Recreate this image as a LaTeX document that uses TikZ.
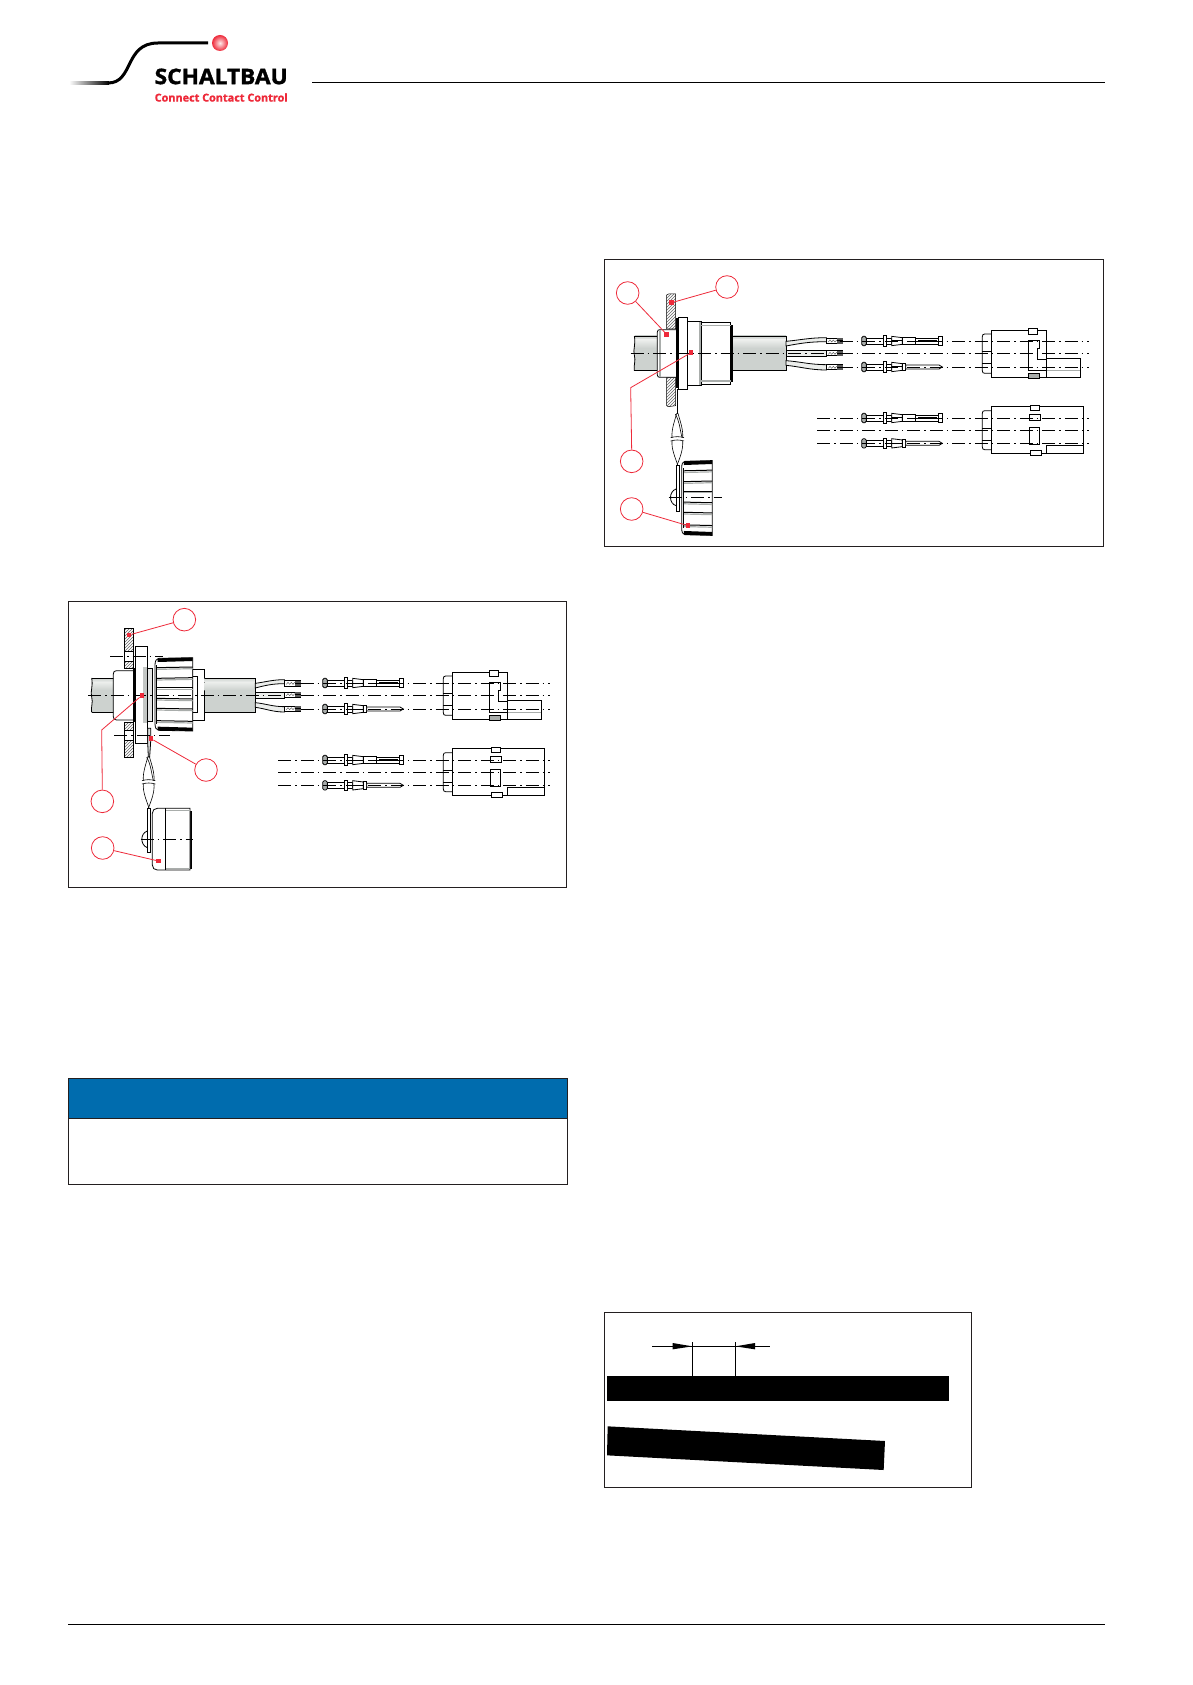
\documentclass[tikz,border=0pt]{standalone}
\usepackage{fontspec}
\setmainfont{Open Sans}
\usetikzlibrary{patterns}
\definecolor{bx}{HTML}{231F20}
\definecolor{rd}{HTML}{EE2A3A}
\definecolor{blu}{HTML}{006CAE}
\definecolor{cab}{HTML}{CDD2CF}
\definecolor{cabl}{HTML}{ECEEEC}
\definecolor{stl}{HTML}{A9ADAB}
\tikzset{
  frame/.style={draw=bx,line width=1pt,fill=white},
  ln/.style={draw=black,line width=.8pt},
  axis/.style={draw=black,line width=.7pt,dash pattern=on 13pt off 4pt on 1.5pt off 4pt},
  hat/.style={draw=black,line width=.5pt,pattern=north east lines,pattern color=black!60},
  callout/.style={circle,draw=rd,line width=.8pt,fill=white,minimum size=22.6pt,inner sep=0pt},
  rdot/.style={rectangle,fill=rd,minimum size=4.4pt,inner sep=0pt},
  leader/.style={draw=rd,line width=.8pt}
}
\newcommand{\cablebar}[4]{%
  \fill[cab] (#1,#2) rectangle (#3,#4);
  \shade[top color=cab,bottom color=cabl] (#1,#2) rectangle (#3,#2+12);
  \shade[top color=cabl,bottom color=cab] (#1,#2+12) rectangle (#3,#2+36);
}
\newcommand{\wirepin}[2]{%
  \begin{scope}[shift={(#1,#2)}]
    \draw[ln,line width=1pt,fill=white] (0,-8) rectangle (48,8);
    \fill[black!65] (32,-8) rectangle (48,8);
    \draw[black!70,line width=.4pt] (5,3) -- (10,-3) -- (15,3) -- (20,-3) -- (25,3) -- (30,-3);
    \draw[black,line width=1pt] (32,0) -- (48,0);
  \end{scope}}
\newcommand{\wires}[4]{% x0,y0,length,pinlen
  \begin{scope}[shift={(#1,#2)},xscale=#3]
    \draw[ln,fill=cabl] (0,-36) .. controls (30,-40) and (50,-47) .. (85,-47) -- (85,-35) .. controls (50,-35) and (30,-30) .. (0,-22) -- cycle;
    \draw[ln,fill=cabl] (0,-8) -- (85,-8) -- (85,8) -- (0,8) -- cycle;
    \draw[ln,fill=cabl] (0,22) .. controls (30,25) and (50,34) .. (85,34) -- (85,50) .. controls (50,50) and (30,40) .. (0,36) -- cycle;
  \end{scope}}
\newcommand{\socketpin}[2]{%
  \begin{scope}[shift={(#1,#2)}]
    \draw[ln,fill=stl,rounded corners=1.5pt] (0,-14) rectangle (14,14);
    \draw[ln,fill=white] (14,-9) rectangle (64,9);
    \draw[ln,fill=white] (64,-16) rectangle (74,16);
    \draw[ln,fill=white] (74,-9) rectangle (90,9);
    \draw[ln,fill=white] (90,-14) -- (122,-10) -- (122,10) -- (90,14) -- cycle;
    \draw[line width=1pt] (92,0) -- (120,0);
    \draw[ln,fill=white] (122,-11) rectangle (162,11);
    \draw[ln,fill=white] (162,-9) rectangle (230,9);
    \draw[line width=1.2pt] (170,0) -- (226,0);
    \draw[ln,fill=white] (230,-13) rectangle (242,13);
  \end{scope}}
\newcommand{\malepin}[2]{%
  \begin{scope}[shift={(#1,#2)}]
    \draw[ln,fill=stl,rounded corners=1.5pt] (0,-14) rectangle (14,14);
    \draw[ln,fill=white] (14,-9) rectangle (64,9);
    \draw[ln,fill=white] (64,-16) rectangle (74,16);
    \draw[ln,fill=white] (74,-9) rectangle (90,9);
    \draw[ln,fill=white] (90,-14) -- (122,-10) -- (122,10) -- (90,14) -- cycle;
    \draw[line width=1pt] (92,0) -- (120,0);
    \draw[ln,fill=white] (122,-11) rectangle (132,11);
    \draw[ln,fill=white] (132,-6) -- (232,-6) -- (242,0) -- (232,6) -- (132,6) -- cycle;
  \end{scope}}
\newcommand{\contacts}{%
  \socketpin{158}{99}\malepin{158}{177}\socketpin{158}{330}\malepin{158}{406}
  % housing A
  \draw[ln,fill=white] (712,152) -- (814,152) -- (814,208) -- (712,208) -- cycle;
  \draw[stl,line width=.7pt] (712,186) -- (814,186);
  \draw[ln,fill=white] (547,78) -- (527,78) .. controls (522,78) and (520,81) .. (520,86) -- (520,188) .. controls (520,193) and (522,196) .. (527,196) -- (547,196);
  \draw[ln,fill=white] (547,66) rectangle (712,208);
  \draw[ln] (520,130) -- (547,130) (520,166) -- (547,166);
  \draw[ln,fill=white] (658,62) rectangle (686,78);
  \draw[ln,fill=stl] (658,196) rectangle (692,212);
  \draw[ln,fill=white] (658,97) -- (692,97) -- (692,122) -- (685,122) -- (685,155) -- (712,155) -- (712,186) -- (658,186) -- cycle;
  % housing B
  \draw[ln,fill=white] (547,308) -- (527,308) .. controls (522,308) and (520,311) .. (520,316) -- (520,417) .. controls (520,422) and (522,425) .. (527,425) -- (547,425);
  \draw[ln,fill=white] (547,295) rectangle (823,437);
  \draw[ln] (520,360) -- (547,360) (520,396) -- (547,396);
  \draw[ln,fill=white] (713,412) rectangle (823,437);
  \draw[ln,fill=white] (664,291) rectangle (690,307);
  \draw[ln,fill=white] (662,320) rectangle (695,338);
  \draw[ln,fill=white] (662,357) rectangle (690,408);
  \draw[ln,fill=white] (664,426) rectangle (696,442);
  % axes
  \draw[axis] (92,99) -- (840,99);
  \draw[axis] (92,135) -- (840,135);
  \draw[axis] (92,177) -- (840,177);
  \draw[axis] (25,330) -- (840,330);
  \draw[axis] (25,367) -- (840,367);
  \draw[axis] (25,406) -- (840,406);
}
\newcommand{\lanyard}[2]{%
  \begin{scope}[shift={(#1,#2)}]
    \draw[line width=.6pt] (-2,-78) .. controls (-8,-55) and (-18,-30) .. (-16,-5);
    \draw[line width=.6pt] (2,-78) .. controls (8,-55) and (18,-30) .. (16,-5);
    \draw[line width=.6pt] (-6,-75) .. controls (6,-55) and (6,-40) .. (14,-5);
    \draw[line width=.6pt] (-16,5) .. controls (-18,30) and (-6,55) .. (2,80);
    \draw[line width=.6pt] (16,5) .. controls (18,30) and (8,55) .. (-2,80);
    \draw[line width=.6pt] (-20,-5) .. controls (-7,-9) and (7,-9) .. (20,-5);
    \draw[line width=.6pt] (-20,5) .. controls (-7,1) and (7,1) .. (20,5);
  \end{scope}}
\newcommand{\knurl}[5]{% x, yc, xscale, yscale
  \begin{scope}[shift={(#1,#2)},xscale=#3,yscale=#4]
    \draw[ln,fill=white] (0,-88) .. controls (0,-100) and (4,-108) .. (12,-108) -- (113,-110) -- (113,110) -- (12,108) .. controls (4,108) and (0,100) .. (0,88) -- cycle;
    \fill[black] (8,-108) -- (113,-110) -- (113,-100) -- (8,-97) -- cycle;
    \fill[black] (8,108) -- (113,110) -- (113,100) -- (8,97) -- cycle;
    \foreach \ya/\yb in {-80/-82,-48/-50,-20/-20,12/14,42/44,79/81} {
      \draw[line width=1pt] (5,\ya) -- (113,\yb);
      \draw[stl,line width=1.2pt] (5,\ya+5) -- (113,\yb+5);
    }
    \draw[ln] (5,-88) -- (5,88);
    #5
  \end{scope}}
\begin{document}
\begin{tikzpicture}[x=1pt,y=-1pt]
\useasboundingbox (0,0) rectangle (1192,1685);
\fill[white] (0,0) rectangle (1192,1685);
% ---- header
\shade[left color=white,right color=black] (69,81.5) rectangle (109,84.5);
\draw[line width=3pt,line cap=butt] (108,83) .. controls (134,83) and (124,43) .. (158,43) -- (208,43);
\shade[inner color=red!8!white,outer color=rd] (220,43) circle (8);
\node[anchor=west,inner sep=0pt,text=black] (brand) at (154.5,76.5) {\resizebox{133pt}{15.5pt}{\bfseries\addfontfeature{FakeBold=1.6}SCHALTBAU}};
\node[anchor=west,inner sep=0pt,text=rd] (slogan) at (154.5,97.5) {\resizebox{133pt}{!}{\bfseries\addfontfeature{FakeBold=1.2}Connect Contact Control}};
\draw[line width=.7pt,black] (312,82) -- (1105,82);
\draw[line width=.7pt,black] (68,1624.5) -- (1105,1624.5);
% ---- frames
\draw[frame] (68,601) rectangle (566,887);
\draw[frame] (604.5,259.5) rectangle (1103,546.5);
\draw[frame] (604,1312) rectangle (971.5,1487.5);
\fill[blu] (68,1078) rectangle (567,1118.5);
\draw[bx,line width=1pt] (68,1078) rectangle (567,1184);
\draw[bx,line width=1pt] (68,1118.5) -- (567,1118.5);
% ---- figure 1 assembly
\begin{scope}[shift={(60,595)},scale=1/3]
  \fill[cab] (95,249) .. controls (100,275) and (90,290) .. (95,305) .. controls (100,325) and (92,335) .. (95,352) -- (165,352) -- (165,249) -- cycle;
  \shade[top color=cab,bottom color=cabl] (97,249) rectangle (165,261);
  \shade[top color=cabl,bottom color=cab] (97,261) rectangle (165,285);
  \draw[ln] (95,249) -- (165,249) (95,352) -- (165,352);
  \draw[ln] (95,249) .. controls (100,275) and (90,290) .. (95,305) .. controls (100,325) and (92,335) .. (95,352);
  \draw[ln,fill=white] (220,227) -- (170,227) .. controls (163,227) and (160,230) .. (160,237) -- (160,365) .. controls (160,372) and (163,375) .. (170,375) -- (220,375);
  % panel
  \draw[hat] (194,99) rectangle (220,168);
  \draw[ln,fill=white] (194,168) rectangle (220,200);
  \draw[hat] (194,200) rectangle (220,220);
  \draw[hat] (194,382) rectangle (220,405);
  \draw[ln,fill=white] (194,405) rectangle (220,435);
  \draw[hat] (194,435) rectangle (220,488);
  \fill[black] (219,220) rectangle (226,382);
  \draw[ln,fill=white] (226,154) rectangle (262,446);
  \fill[stl!70] (250,215) rectangle (261.5,385);
  \draw[ln,fill=stl!30] (262,220) rectangle (277,380);
  % cap behind nut
  \draw[ln,fill=white] (398,223) rectangle (434,375);
  \draw[ln] (398,245) -- (413,245) -- (413,352) -- (398,352);
  \cablebar{434}{249}{586}{352}
  \draw[ln] (434,249) -- (586,249) -- (586,352) -- (434,352);
  \wires{586}{301}{1.03}{50}
  \wirepin{674}{265}\wirepin{674}{299}\wirepin{674}{341}
  \knurl{285}{298}{1}{1}{}
  % lanyard and blind cap
  \draw[ln,fill=stl!40] (263,400) -- (272,400) -- (272,440) -- (269,486) -- (265,486) -- (263,440) -- cycle;
  \lanyard{266}{562}
  \draw[ln,fill=white] (390,648) rectangle (395,820);
  \draw[ln,fill=white] (390,640) -- (292,640) .. controls (283,640) and (277,646) .. (277,655) -- (277,810) .. controls (277,819) and (283,825) .. (292,825) -- (390,825) -- cycle;
  \draw[stl,line width=.8pt] (316,645) -- (390,645) (316,820) -- (390,820);
  \draw[ln] (316,640) -- (316,825);
  \draw[ln,fill=white] (262,708) .. controls (240,715) and (240,750) .. (262,758);
  \draw[ln,fill=white] (263,640) rectangle (270,772);
  % axes
  \draw[axis] (85,301) -- (674,301);
  \draw[axis] (150,184) -- (308,184);
  \draw[axis] (163,421) -- (330,421);
  \draw[axis] (242,733) -- (398,733);
  % callouts
  \node[callout] (a1) at (373,74) {};
  \node[callout] (a2) at (438,525) {};
  \node[callout] (a3) at (127,619) {};
  \node[callout] (a4) at (128,759) {};
  \node[rdot] (b1) at (207,120) {};
  \node[rdot] (b2) at (273,431) {};
  \node[rdot] (b3) at (246,301) {};
  \node[rdot] (b4) at (295,798) {};
  \coordinate (e3) at (125,405);
  \draw[leader] (a1) -- (b1);
  \draw[leader] (a2) -- (b2);
  \draw[leader] (a3.north) -- (e3) -- (b3);
  \draw[leader] (a4) -- (b4);
\end{scope}
\begin{scope}[shift={(270,650)},scale=1/3]\contacts\end{scope}
% ---- figure 2 assembly
\begin{scope}[shift={(600,255)},scale=1/3]
  \fill[cab] (103,243) .. controls (108,270) and (98,285) .. (103,300) .. controls (108,320) and (100,330) .. (103,347) -- (172,347) -- (172,243) -- cycle;
  \shade[top color=cab,bottom color=cabl] (105,243) rectangle (172,255);
  \shade[top color=cabl,bottom color=cab] (105,255) rectangle (172,279);
  \draw[ln] (103,243) -- (172,243) (103,347) -- (172,347);
  \draw[ln] (103,243) .. controls (108,270) and (98,285) .. (103,300) .. controls (108,320) and (100,330) .. (103,347);
  \draw[hat] (200,120) -- (206,117) -- (227,117) -- (227,222) -- (200,222) -- cycle;
  \draw[hat] (200,367) -- (227,367) -- (227,452) -- (205,455) -- (200,452) -- cycle;
  \draw[ln,fill=white] (228,224) -- (180,224) .. controls (175,224) and (172,226) .. (172,231) -- (172,360) .. controls (172,365) and (175,367) .. (180,367) -- (228,367);
  \draw[stl,line width=2pt] (181,226) -- (181,365);
  \fill[black] (228,190) rectangle (236,400);
  \draw[ln,fill=white] (236,187) rectangle (263,403);
  \draw[ln,fill=white] (263,198) rectangle (303,392);
  \draw[stl,line width=2pt] (300,200) -- (300,390);
  \draw[ln,fill=white] (303,202) rectangle (392,388);
  \draw[stl,line width=1.5pt] (303,212) -- (392,212) (303,378) -- (392,378);
  \fill[black] (392,210) rectangle (399,380);
  \cablebar{400}{243}{558}{347}
  \draw[ln] (400,243) -- (558,243) -- (558,347) -- (400,347);
  \wires{558}{295}{1.43}{50}
  \wirepin{680}{258}\wirepin{680}{295}\wirepin{680}{337}
  \draw[black,line width=1pt] (233,403) -- (233,476);
  \lanyard{232}{553}
  \draw[ln,fill=white] (228,702) .. controls (206,710) and (206,745) .. (228,752);
  \draw[ln,fill=white] (228,632) rectangle (237,768);
  \knurl{245}{729}{0.81}{1.02}{}
  \draw[axis] (92,295) -- (680,295);
  \draw[axis] (206,727) -- (365,727);
  \node[callout] (c1) at (83,114) {};
  \node[callout] (c2) at (381,96) {};
  \node[callout] (c3) at (95,619) {};
  \node[callout] (c4) at (95,762) {};
  \node[rdot] (d1) at (200,238) {};
  \node[rdot] (d2) at (215,143) {};
  \node[rdot] (d3) at (273,293) {};
  \node[rdot] (d4) at (264,812) {};
  \coordinate (f3) at (92,398);
  \draw[leader] (c1) -- (d1);
  \draw[leader] (c2) -- (d2);
  \draw[leader] (c3.north) -- (f3) -- (d3);
  \draw[leader] (c4) -- (d4);
\end{scope}
\begin{scope}[shift={(809,308)},scale=1/3]\contacts\end{scope}
% ---- figure 3
\begin{scope}[shift={(595,1300)},scale=1/3]
  \fill[black] (37,228) rectangle (1063,302);
  \fill[black] (38,379) -- (870,423) -- (866,510) -- (36,466) -- cycle;
  \draw[black,line width=.7pt] (292,127) -- (292,258);
  \draw[black,line width=.7pt] (421,127) -- (421,258);
  \draw[black,line width=.7pt] (172,139) -- (524,139);
  \fill[black] (233,129) -- (292,139) -- (233,148) -- cycle;
  \fill[black] (421,139) -- (480,129) -- (480,148) -- cycle;
\end{scope}
\end{tikzpicture}
\end{document}
